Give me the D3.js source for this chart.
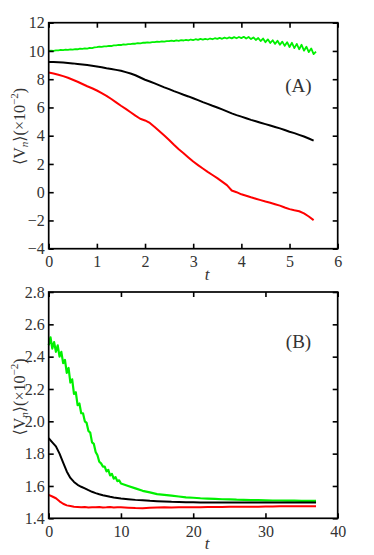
<!DOCTYPE html>
<html>
<head>
<meta charset="utf-8">
<script src="https://cdn.jsdelivr.net/npm/d3@7"></script>
<style>
  body { margin: 0; background: #fff; }
  svg { display: block; }
</style>
</head>
<body>
<div id="chart"></div>
<script>

// ---- panel A data
var tA = d3.range(0, 5.55, 0.1);
var tA_green = d3.range(0, 5.575, 0.05);
var greenA = [10.00,10.02,10.01,10.04,10.04,10.07,10.06,10.09,10.08,10.11,
              10.10,10.13,10.12,10.16,10.15,10.18,10.17,10.21,10.20,10.25,
              10.27,10.30,10.29,10.33,10.32,10.36,10.35,10.39,10.40,10.43,
              10.42,10.47,10.45,10.49,10.48,10.52,10.51,10.55,10.54,10.58,
              10.58,10.61,10.59,10.63,10.62,10.66,10.64,10.68,10.66,10.70,
              10.69,10.73,10.70,10.75,10.72,10.77,10.74,10.79,10.75,10.81,
              10.77,10.83,10.78,10.85,10.80,10.86,10.81,10.88,10.83,10.90,
              10.85,10.92,10.86,10.94,10.88,10.96,10.89,10.98,10.90,10.99,
              10.91,11.00,10.88,10.99,10.84,10.96,10.78,10.92,10.70,10.88,
              10.62,10.82,10.56,10.76,10.50,10.72,10.44,10.66,10.36,10.62,
              10.28,10.58,10.20,10.50,10.12,10.44,10.02,10.30,9.92,10.18,
              9.78,9.95];
var blackA = [9.22,9.21,9.20,9.18,9.15,9.12,9.08,9.04,9.00,8.95,
              8.90,8.85,8.78,8.72,8.66,8.60,8.50,8.40,8.28,8.12,
              7.96,7.84,7.70,7.56,7.42,7.30,7.16,7.03,6.90,6.78,
              6.65,6.52,6.38,6.25,6.12,6.00,5.86,5.72,5.58,5.46,
              5.35,5.24,5.12,5.02,4.92,4.82,4.72,4.62,4.52,4.40,
              4.28,4.18,4.06,3.94,3.80,3.65];
var redA   = [8.47,8.40,8.32,8.22,8.10,7.96,7.82,7.66,7.50,7.36,
              7.20,7.02,6.82,6.60,6.36,6.12,5.90,5.66,5.42,5.20,
              5.08,4.90,4.62,4.32,4.02,3.70,3.36,3.04,2.76,2.46,
              2.17,1.92,1.68,1.44,1.22,1.00,0.75,0.50,0.12,0.00,
              -0.15,-0.25,-0.36,-0.46,-0.56,-0.66,-0.75,-0.85,-0.95,-1.08,
              -1.20,-1.28,-1.35,-1.50,-1.72,-1.98];

// ---- panel B data
var tB = d3.range(0, 10, 0.5).concat(d3.range(10, 37.5, 1));
var tB_green = d3.range(0, 10.1, 0.25).concat(d3.range(11, 37.5, 1));
var greenB = [2.47,2.52,2.45,2.49,2.43,2.47,2.40,2.43,2.36,2.38,
              2.30,2.33,2.24,2.26,2.17,2.18,2.10,2.11,2.05,2.05,
              2.00,1.99,1.94,1.93,1.87,1.86,1.81,1.79,1.75,1.74,
              1.72,1.72,1.69,1.70,1.665,1.675,1.645,1.655,1.63,1.635,
              1.615,
              1.60,1.585,1.57,1.56,1.55,1.545,1.54,1.535,1.53,1.527,
              1.524,1.522,1.52,1.518,1.517,1.515,1.514,1.513,1.512,1.511,
              1.510,1.510,1.509,1.509,1.508,1.508,1.508];
var blackB = [1.895,1.870,1.845,1.800,1.745,1.690,1.650,1.625,1.607,1.595,
              1.585,1.574,1.564,1.556,1.549,1.543,1.538,1.533,1.529,1.526,
              1.523,1.518,1.514,1.511,1.508,1.506,1.504,1.502,1.501,1.500,
              1.499,1.498,1.498,1.498,1.497,1.497,1.497,1.497,1.497,1.497,
              1.497,1.497,1.497,1.497,1.497,1.497,1.497,1.497];
var redB   = [1.545,1.535,1.524,1.505,1.490,1.480,1.476,1.472,1.470,1.468,
              1.470,1.467,1.469,1.468,1.470,1.467,1.468,1.470,1.467,1.468,
              1.468,1.466,1.463,1.462,1.465,1.467,1.468,1.467,1.469,1.468,
              1.469,1.469,1.470,1.470,1.470,1.471,1.471,1.472,1.472,1.472,
              1.473,1.473,1.474,1.474,1.474,1.475,1.475,1.475];

var ticksA_x = [0,1,2,3,4,5,6];
var ticksA_y = [-4,-2,0,2,4,6,8,10,12];
var ticksB_x = [0,10,20,30,40];
var ticksB_y = [1.4,1.6,1.8,2.0,2.2,2.4,2.6,2.8];

var serif = "'Liberation Serif', 'DejaVu Serif', serif";

var svg = d3.select("#chart").append("svg")
    .attr("width", 374)
    .attr("height", 555);

function panel(opt) {
    var x = d3.scaleLinear().domain(opt.xdom).range([48.7, 337.7]);
    var y = d3.scaleLinear().domain(opt.ydom).range([opt.bottom, opt.top]);
    var g = svg.append("g");

    var line = d3.line()
        .x(function(d) { return x(d[0]); })
        .y(function(d) { return y(d[1]); });

    opt.series.forEach(function(s) {
        g.append("path")
            .datum(d3.zip(s.t, s.v))
            .attr("fill", "none")
            .attr("stroke", s.color)
            .attr("stroke-width", s.w || 2)
            .attr("stroke-linejoin", "round")
            .attr("d", line);
    });

    // ticks inward on all four sides, labels only bottom/left
    g.append("g").attr("transform", "translate(0," + opt.bottom + ")")
        .call(d3.axisBottom(x).tickValues(opt.xt).tickSize(-5).tickPadding(7).tickFormat(d3.format("d")));
    g.append("g").attr("transform", "translate(0," + opt.top + ")")
        .call(d3.axisTop(x).tickValues(opt.xt).tickSize(-5).tickFormat(""));
    g.append("g").attr("transform", "translate(48.7,0)")
        .call(d3.axisLeft(y).tickValues(opt.yt).tickSize(-5).tickPadding(4).tickFormat(opt.fmt));
    g.append("g").attr("transform", "translate(337.7,0)")
        .call(d3.axisRight(y).tickValues(opt.yt).tickSize(-5).tickFormat(""));

    g.selectAll(".domain").remove();
    g.selectAll(".tick line").attr("stroke", "#000").attr("stroke-width", 1.6);
    g.selectAll(".tick text")
        .attr("font-family", serif).attr("font-size", 16).attr("fill", "#333");

    g.append("rect")
        .attr("x", 48.7).attr("y", opt.top)
        .attr("width", 289).attr("height", opt.bottom - opt.top)
        .attr("fill", "none").attr("stroke", "#000").attr("stroke-width", 1.7);

    // panel tag
    g.append("text")
        .attr("x", 298.5).attr("y", opt.tagY)
        .attr("text-anchor", "middle")
        .attr("font-family", serif).attr("font-size", 19).attr("fill", "#333")
        .text(opt.tag);

    // x label
    g.append("text")
        .attr("x", 207).attr("y", opt.bottom + 31)
        .attr("text-anchor", "middle")
        .attr("font-family", serif).attr("font-style", "italic").attr("font-size", 17)
        .attr("fill", "#333")
        .text("t");

    // y label
    var yl = g.append("text")
        .attr("transform", "translate(25," + opt.labelY + ") rotate(-90)")
        .attr("text-anchor", "middle")
        .attr("font-family", serif).attr("font-size", 16).attr("fill", "#333");
    yl.append("tspan").text("\u27E8V");
    yl.append("tspan").attr("font-size", 11).attr("font-style", "italic").attr("dy", 3).text("n");
    yl.append("tspan").attr("dy", -3).text("\u27E9(\u00D710");
    yl.append("tspan").attr("font-size", 11).attr("dy", -7).text("\u22122");
    yl.append("tspan").attr("dy", 7).text(")");
}

panel({
    xdom: [0, 6], ydom: [-4, 12], top: 22.7, bottom: 248.7,
    xt: ticksA_x, yt: ticksA_y, fmt: d3.format("d"),
    tag: "(A)", tagY: 92, labelY: 126.5,
    series: [
        {t: tA_green, v: greenA, color: "#00f000", w: 1.8},
        {t: tA, v: blackA, color: "#000"},
        {t: tA, v: redA, color: "#ff0000"}
    ]
});

panel({
    xdom: [0, 40], ydom: [1.4, 2.8], top: 292, bottom: 518.3,
    xt: ticksB_x, yt: ticksB_y, fmt: d3.format(".1f"),
    tag: "(B)", tagY: 348, labelY: 397,
    series: [
        {t: tB_green, v: greenB, color: "#00f000", w: 2.2},
        {t: tB, v: blackB, color: "#000"},
        {t: tB, v: redB, color: "#ff0000"}
    ]
});

</script>
</body>
</html>
